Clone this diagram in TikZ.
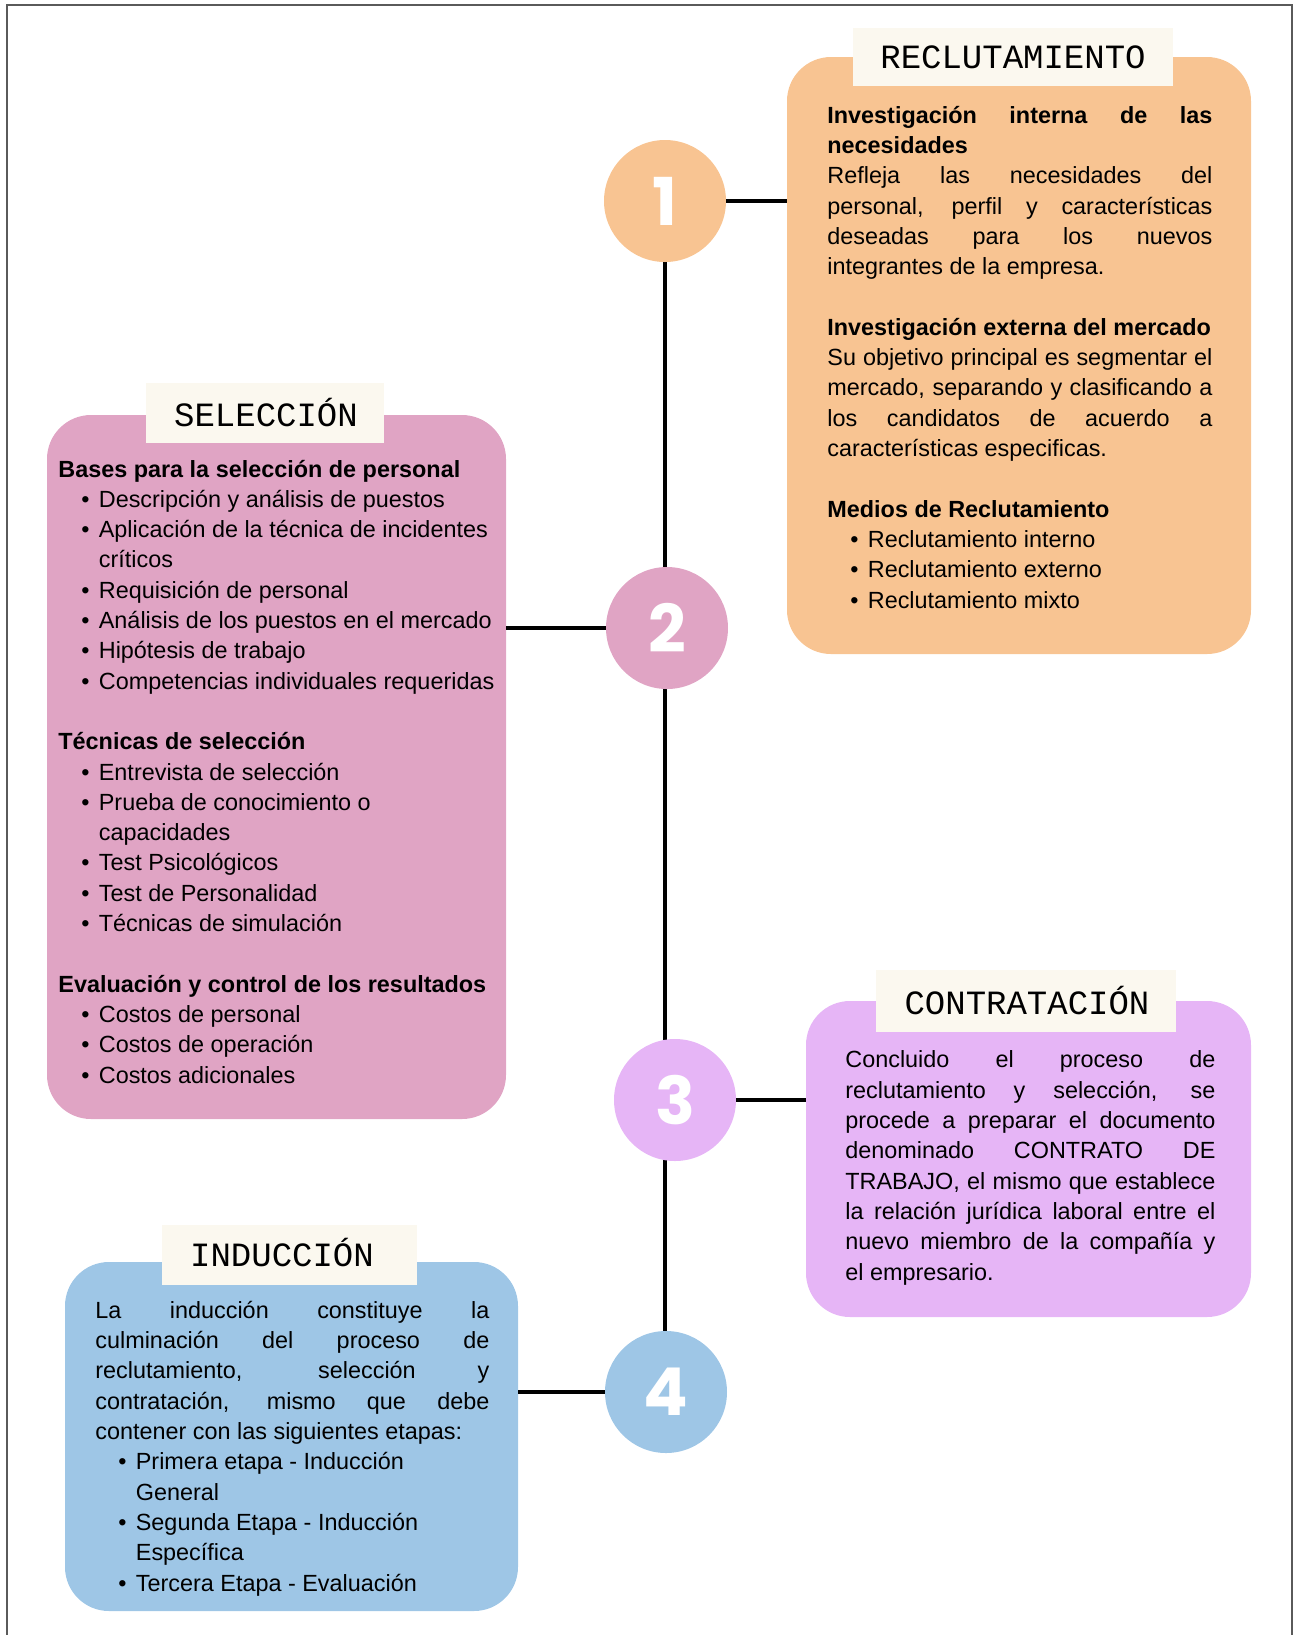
\documentclass[tikz,border=0pt]{standalone}
\usepackage{fontspec}
\setmainfont{Liberation Sans}
\newfontfamily\titlefont{Liberation Mono}
\newfontfamily\numfont{Poppins}
\usetikzlibrary{backgrounds}

\definecolor{orangeB}{RGB}{248,196,146}
\definecolor{pinkB}{RGB}{224,164,196}
\definecolor{lilacB}{RGB}{230,181,246}
\definecolor{blueB}{RGB}{158,198,230}
\definecolor{tabC}{RGB}{251,248,239}
\definecolor{frameC}{RGB}{90,90,90}

\newlength\colw
\newcommand\bodyfont{\fontsize{11.7}{15.15}\selectfont}
\newcommand\jl[1]{\makebox[\colw][s]{#1}}
\newcommand\itm[1]{\hspace*{11.5pt}\makebox[8.75pt][l]{\textbullet}#1}
\newcommand\cnt[1]{\hspace*{20.25pt}#1}

\tikzset{
  stagebox/.style={rectangle, rounded corners=22pt, inner sep=0pt},
  tabbox/.style={rectangle, fill=tabC, inner sep=0pt},
  title/.style={anchor=base, inner sep=0pt, font=\titlefont\fontsize{17}{17}\selectfont},
  num/.style={circle, minimum size=61pt, inner sep=0pt, text=white,
    font=\numfont\bfseries\fontsize{33}{33}\selectfont},
  body/.style={anchor=base west, inner sep=0pt, align=left,
    font={\bodyfont\setlength\colw{#1}}},
  link/.style={line width=2.2pt, black}
}

\begin{document}
\begin{tikzpicture}[x=0.5pt,y=-0.5pt]
    \useasboundingbox (0,0) rectangle (1294,1635);
    % Outer frame
    \draw[frameC, line width=0.8pt] (7,1635) -- (7,5) -- (1292,5) -- (1292,1635);

    % Step circles
    \node[num, fill=orangeB] (c1) at (665,201) {1};
    \node[num, fill=pinkB] (c2) at (667,628) {2};
    \node[num, fill=lilacB] (c3) at (675,1100) {3};
    \node[num, fill=blueB] (c4) at (666,1392) {4};
    \begin{scope}[on background layer]
      \draw[link, line width=2pt] (c1.south) -- (c1.south |- c4.north);
    \end{scope}

    % Stage boxes
    \node[stagebox, fill=orangeB, minimum width=232pt, minimum height=298.5pt] (recbox) at (1019,355.5) {};
    \node[stagebox, fill=pinkB, minimum width=229.5pt, minimum height=352pt] (selbox) at (276.5,767) {};
    \node[stagebox, fill=lilacB, minimum width=222.5pt, minimum height=158pt] (conbox) at (1028.5,1159) {};
    \node[stagebox, fill=blueB, minimum width=226.5pt, minimum height=174.5pt] (indbox) at (291.5,1436.5) {};

    % Links from circles to boxes
    \draw[link] (c1.east) -- (c1.east -| recbox.west);
    \draw[link] (selbox.east |- c2) -- (c2.west);
    \draw[link] (c3.east) -- (c3.east -| conbox.west);
    \draw[link] (indbox.east |- c4) -- (c4.west);

    % Title tabs
    \node[tabbox, minimum width=160pt, minimum height=29pt] (rectab) at (1013,57) {};
    \node[title] (rectitle) at (1013,68) {RECLUTAMIENTO};
    \node[tabbox, minimum width=119pt, minimum height=30pt] (seltab) at (265,413) {};
    \node[title] (seltitle) at (266,426) {SELECCIÓN};
    \node[tabbox, minimum width=150pt, minimum height=31pt] (contab) at (1026,1001) {};
    \node[title] (contitle) at (1027,1014) {CONTRATACIÓN};
    \node[tabbox, minimum width=127.5pt, minimum height=30pt] (indtab) at (289.5,1255) {};
    \node[title] (indtitle) at (282,1266) {INDUCCIÓN};

    % Texts (placed by the baseline of their last line)
    \node[body=192.5pt] (rectext) at (827,608) {%
      \jl{\textbf{Investigación interna de las}}\\
      \textbf{necesidades}\\
      \jl{Refleja las necesidades del}\\
      \jl{personal, perfil y características}\\
      \jl{deseadas para los nuevos}\\
      integrantes de la empresa.\\[15.15pt]
      \textbf{Investigación externa del mercado}\\
      \jl{Su objetivo principal es segmentar el}\\
      \jl{mercado, separando y clasificando a}\\
      \jl{los candidatos de acuerdo a}\\
      características especificas.\\[15.15pt]
      \textbf{Medios de Reclutamiento}\\
      \itm{Reclutamiento interno}\\
      \itm{Reclutamiento externo}\\
      \itm{Reclutamiento mixto}};

    \node[body=210pt] (seltext) at (58,1083) {%
      \textbf{Bases para la selección de personal}\\
      \itm{Descripción y análisis de puestos}\\
      \itm{Aplicación de la técnica de incidentes}\\
      \cnt{críticos}\\
      \itm{Requisición de personal}\\
      \itm{Análisis de los puestos en el mercado}\\
      \itm{Hipótesis de trabajo}\\
      \itm{Competencias individuales requeridas}\\[15.15pt]
      \textbf{Técnicas de selección}\\
      \itm{Entrevista de selección}\\
      \itm{Prueba de conocimiento o}\\
      \cnt{capacidades}\\
      \itm{Test Psicológicos}\\
      \itm{Test de Personalidad}\\
      \itm{Técnicas de simulación}\\[15.15pt]
      \textbf{Evaluación y control de los resultados}\\
      \itm{Costos de personal}\\
      \itm{Costos de operación}\\
      \itm{Costos adicionales}};

    \node[body=185pt] (context) at (845,1280) {%
      \jl{Concluido el proceso de}\\
      \jl{reclutamiento y selección, se}\\
      \jl{procede a preparar el documento}\\
      \jl{denominado CONTRATO DE}\\
      \jl{TRABAJO, el mismo que establece}\\
      \jl{la relación jurídica laboral entre el}\\
      \jl{nuevo miembro de la compañía y}\\
      el empresario.};

    \node[body=197pt] (indtext) at (95,1591) {%
      \jl{La inducción constituye la}\\
      \jl{culminación del proceso de}\\
      \jl{reclutamiento, selección y}\\
      \jl{contratación, mismo que debe}\\
      contener con las siguientes etapas:\\
      \itm{Primera etapa - Inducción}\\
      \cnt{General}\\
      \itm{Segunda Etapa - Inducción}\\
      \cnt{Específica}\\
      \itm{Tercera Etapa - Evaluación}};
\end{tikzpicture}
\end{document}
